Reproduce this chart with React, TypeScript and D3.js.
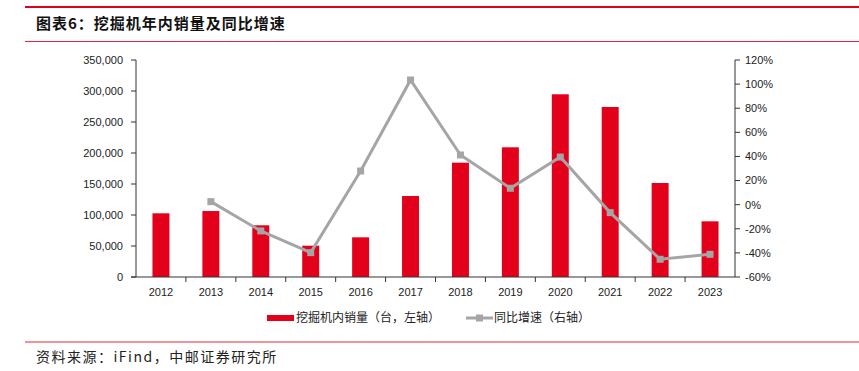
import { useEffect } from "react";
import * as d3 from "d3";

// chart data
const years = ["2012", "2013", "2014", "2015", "2016", "2017", "2018", "2019", "2020", "2021", "2022", "2023"];
const sales = [102700, 106400, 83400, 50500, 64000, 130600, 184400, 209200, 294700, 274200, 151600, 89800];
const growth = [null, 2.5, -21.8, -39.8, 27.9, 103.4, 41.2, 13.6, 39.5, -6.6, -45.3, -41.2];
const leftTicks = [0, 50000, 100000, 150000, 200000, 250000, 300000, 350000];
const rightTicks = [-60, -40, -20, 0, 20, 40, 60, 80, 100, 120];

const RED = "#E3001B";
const GRAY = "#A5A5A5";

const App = () => {
  useEffect(() => {
    document.body.style.margin = "0";
  }, []);

  const width = 859;
  const height = 371;
  const left = 136;
  const right = 735;
  const top = 60;
  const bottom = 277;

  const x = d3.scaleBand().domain(years).range([left, right]).paddingInner(0.66).paddingOuter(0.33);
  const xs = d3.scaleBand().domain(years).range([left, right]);
  const yL = d3.scaleLinear().domain([0, 350000]).range([bottom, top]);
  const yR = d3.scaleLinear().domain([-60, 120]).range([bottom, top]);
  const fmt = d3.format(",");

  const pts = years
    .map((y, i) => ({ y, v: growth[i] }))
    .filter((d) => d.v !== null) as { y: string; v: number }[];
  const line = d3
    .line<{ y: string; v: number }>()
    .x((d) => (xs(d.y) as number) + xs.bandwidth() / 2)
    .y((d) => yR(d.v));

  const axisFont = "Arial, 'Liberation Sans', sans-serif";
  const cjk = "'Noto Sans CJK SC', sans-serif";

  return (
    <svg width={width} height={height} style={{ display: "block", background: "#fff" }}>
      {/* header */}
      <line x1={25} x2={width} y1={7} y2={7} stroke={RED} strokeWidth={2} />
      <text x={36} y={29} fontFamily={cjk} fontWeight="bold" fontSize={15} letterSpacing={1} fill="#111">
        图表6：挖掘机年内销量及同比增速
      </text>
      <line x1={25} x2={width} y1={41.5} y2={41.5} stroke={RED} strokeWidth={1} opacity={0.85} />

      {/* bars */}
      {years.map((yr, i) => (
        <rect
          key={yr}
          x={x(yr)}
          y={yL(sales[i])}
          width={x.bandwidth()}
          height={bottom - yL(sales[i])}
          fill={RED}
        />
      ))}

      {/* line */}
      <path d={line(pts) ?? ""} fill="none" stroke={GRAY} strokeWidth={3} />
      {pts.map((d) => (
        <rect
          key={d.y}
          x={(xs(d.y) as number) + xs.bandwidth() / 2 - 3.5}
          y={yR(d.v) - 3.5}
          width={7}
          height={7}
          fill={GRAY}
        />
      ))}

      {/* left axis */}
      <g fontFamily={axisFont} fontSize={11} fill="#222">
        <line x1={left} x2={left} y1={top} y2={bottom} stroke="#333" />
        {leftTicks.map((t) => (
          <g key={t}>
            <line x1={left - 5} x2={left} y1={yL(t)} y2={yL(t)} stroke="#333" />
            <text x={123} y={yL(t)} dy="0.35em" textAnchor="end">
              {fmt(t)}
            </text>
          </g>
        ))}
      </g>

      {/* right axis */}
      <g fontFamily={axisFont} fontSize={11} fill="#222">
        <line x1={right} x2={right} y1={top} y2={bottom} stroke="#333" />
        {rightTicks.map((t) => (
          <g key={t}>
            <line x1={right} x2={right + 5} y1={yR(t)} y2={yR(t)} stroke="#333" />
            <text x={745} y={yR(t)} dy="0.35em">
              {t}%
            </text>
          </g>
        ))}
      </g>

      {/* x axis */}
      <g fontFamily={axisFont} fontSize={11} fill="#222">
        <line x1={left - 5} x2={right} y1={bottom} y2={bottom} stroke="#333" />
        {years.map((yr, i) => (
          <g key={yr}>
            {i > 0 && (
              <line
                x1={xs(yr) as number}
                x2={xs(yr) as number}
                y1={bottom}
                y2={bottom + 5}
                stroke="#333"
              />
            )}
            <text x={(xs(yr) as number) + xs.bandwidth() / 2} y={296} textAnchor="middle">
              {yr}
            </text>
          </g>
        ))}
      </g>

      {/* legend */}
      <g fontFamily={cjk} fontSize={12} fill="#222">
        <rect x={267} y={315} width={27} height={6} fill={RED} />
        <text x={296} y={318} dy="0.35em">挖掘机内销量（台，左轴）</text>
        <line x1={466} x2={493} y1={318} y2={318} stroke={GRAY} strokeWidth={3} />
        <rect x={476} y={314.5} width={7} height={7} fill={GRAY} />
        <text x={494} y={318} dy="0.35em">同比增速（右轴）</text>
      </g>

      {/* footer */}
      <line x1={25} x2={width} y1={342} y2={342} stroke={RED} strokeWidth={1} opacity={0.85} />
      <text x={36} y={362} fontFamily={cjk} fontSize={14} letterSpacing={1.5} fill="#222">
        资料来源：iFind，中邮证券研究所
      </text>
    </svg>
  );
};

export default App;
